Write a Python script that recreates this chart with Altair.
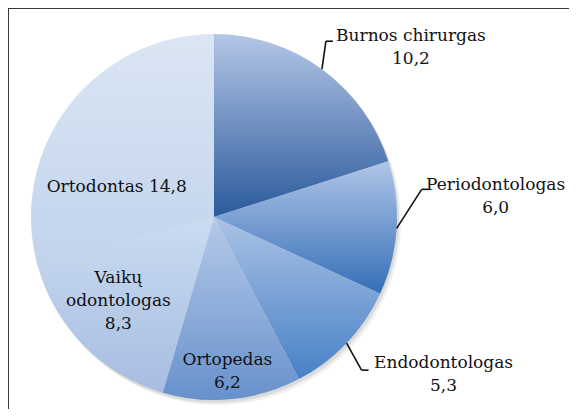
import math
import altair as alt
import pandas as pd

# ---- data ----
categories = ["Burnos chirurgas", "Periodontologas", "Endodontologas",
              "Ortopedas", "Vaikų odontologas", "Ortodontas"]
values = [10.2, 6.0, 5.3, 6.2, 8.3, 14.8]

# ---- style / layout ----
W, H = 561, 401
CX, CY, R = 206, 209, 183
FONT = "DejaVu Serif"
FS = 17
LH = 23

# top (light) and bottom (dark) colour of each slice's vertical gradient
GRAD = {
    "Burnos chirurgas": ("#b4c6e7", "#2a5a9b"),
    "Periodontologas": ("#b0c5e7", "#356fb8"),
    "Endodontologas": ("#aac2e5", "#4781c6"),
    "Ortopedas": ("#b6cae9", "#6791cc"),
    "Vaikų odontologas": ("#cbdcf1", "#a6bce1"),
    "Ortodontas": ("#dbe6f4", "#c1d3ec"),
}
# how each label is wrapped
WRAP = {"Vaikų odontologas": "words", "Ortodontas": "inline"}
# label anchor (first line): radius from centre along the slice mid-angle, plus dx, dy
LABEL_POS = {
    "Burnos chirurgas": (R, 89, -33),
    "Periodontologas": (R, 99, -43),
    "Endodontologas": (R, 97, 20),
    "Ortopedas": (156, -2, -12),
    "Vaikų odontologas": (128, -4, -28),
    "Ortodontas": (100, -18, 31),
}
# leader lines: elbow offset from slice edge (dx, dy) and horizontal tail length
LEADER = {
    "Burnos chirurgas": (4, -28, 7),
    "Periodontologas": (25, -39, 7),
    "Endodontologas": (15, 27, 7),
}


def fmt(v):
    return f"{v:.1f}".replace(".", ",")


labels = []
for c, v in zip(categories, values):
    mode = WRAP.get(c, "below")
    if mode == "inline":
        labels.append(f"{c} {fmt(v)}")
    elif mode == "words":
        labels.append(c.replace(" ", "\n") + "\n" + fmt(v))
    else:
        labels.append(f"{c}\n{fmt(v)}")

df = pd.DataFrame({"cat": categories, "value": values,
                   "order": list(range(len(categories))), "label": labels})

TH = alt.Scale(domain=[0, 1], range=[0, 2 * math.pi])

base = (
    alt.Chart(df)
    .transform_joinaggregate(total="sum(value)")
    .transform_window(cum="sum(value)", sort=[alt.SortField("order", order="ascending")],
                      frame=[None, 0])
    .transform_calculate(f0="(datum.cum - datum.value) / datum.total")
    .transform_calculate(f1="datum.cum / datum.total")
    .transform_calculate(ang="PI * (2 * datum.cum - datum.value) / datum.total")
)

layers = []

# soft shadow
for off, op in [((4, 5), 0.10), ((2, 3), 0.18)]:
    layers.append(
        base.mark_arc(outerRadius=R, fill="#7a7a7a", opacity=op, strokeWidth=0).encode(
            theta=alt.Theta("f0:Q", scale=TH), theta2="f1:Q",
            x=alt.value(CX + off[0]), y=alt.value(CY + off[1]),
        )
    )

# slices
for c in categories:
    top, bot = GRAD[c]
    grad = {"gradient": "linear", "x1": 0, "y1": 0, "x2": 0, "y2": 1,
            "stops": [{"offset": 0, "color": top}, {"offset": 1, "color": bot}]}
    layers.append(
        base.transform_filter(alt.datum.cat == c)
        .mark_arc(outerRadius=R, fill=grad, strokeWidth=0)
        .encode(theta=alt.Theta("f0:Q", scale=TH), theta2="f1:Q",
                x=alt.value(CX), y=alt.value(CY))
    )

# leader lines
for c, (ex, ey, tail) in LEADER.items():
    lb = (
        base.transform_filter(alt.datum.cat == c)
        .transform_calculate(x0=f"{CX} + {R} * sin(datum.ang)")
        .transform_calculate(y0=f"{CY} - {R} * cos(datum.ang)")
        .transform_calculate(x1=f"datum.x0 + {ex}", y1=f"datum.y0 + {ey}")
        .transform_calculate(x2=f"datum.x1 + {tail}")
    )
    layers.append(
        lb.mark_rule(color="#111111", strokeWidth=1.6).encode(
            x=alt.X("x0:Q", scale=None, axis=None), y=alt.Y("y0:Q", scale=None, axis=None),
            x2="x1:Q", y2="y1:Q")
    )
    layers.append(
        lb.mark_rule(color="#111111", strokeWidth=1.6).encode(
            x=alt.X("x1:Q", scale=None, axis=None), y=alt.Y("y1:Q", scale=None, axis=None),
            x2="x2:Q")
    )

# labels
for c, (r, dx, dy) in LABEL_POS.items():
    layers.append(
        base.transform_filter(alt.datum.cat == c)
        .transform_calculate(tx=f"{CX} + {r} * sin(datum.ang) + {dx}")
        .transform_calculate(ty=f"{CY} - {r} * cos(datum.ang) + {dy}")
        .mark_text(font=FONT, fontSize=FS, lineBreak="\n", lineHeight=LH,
                   align="center", baseline="middle", color="#111111")
        .encode(x=alt.X("tx:Q", scale=None, axis=None),
                y=alt.Y("ty:Q", scale=None, axis=None),
                text="label:N")
    )

# frame (top and left edges visible)
frame_df = pd.DataFrame({"k": [0]})
layers.append(alt.Chart(frame_df).mark_rule(color="#3a3a3a", strokeWidth=2).encode(
    x=alt.value(0), x2=alt.value(W), y=alt.value(0)))
layers.append(alt.Chart(frame_df).mark_rule(color="#3a3a3a", strokeWidth=2).encode(
    x=alt.value(0), y=alt.value(0), y2=alt.value(H)))

chart = (
    alt.layer(*layers)
    .properties(width=W, height=H, padding=0, autosize="none", background="white")
    .configure_view(stroke=None)
)

chart.save("out.html", embed_options={"renderer": "svg", "actions": False})
